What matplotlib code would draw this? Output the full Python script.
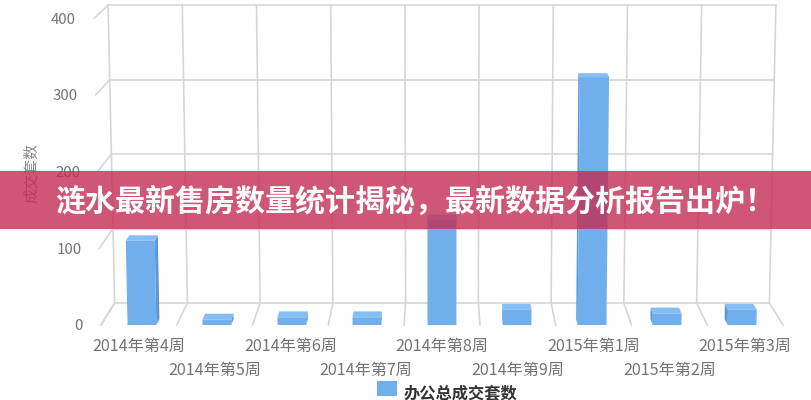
import numpy as np
import matplotlib
matplotlib.use("Agg")
import matplotlib.pyplot as plt

plt.rcParams['font.family'] = ['Noto Sans CJK SC', 'DejaVu Sans']

weeks = ['2014年第4周', '2014年第5周', '2014年第6周', '2014年第7周', '2014年第8周',
         '2014年第9周', '2015年第1周', '2015年第2周', '2015年第3周']
counts = [110, 7, 10, 10, 137, 20, 323, 15, 20]
y_ticks = [0, 100, 200, 300, 400]
series_name = '办公总成交套数'
y_name = '成交套数'
banner = '涟水最新售房数量统计揭秘，最新数据分析报告出炉！'

GRID = '#d6d6d6'
FRONT = '#70aeec'
TOP = '#85bef5'
SIDE = '#5c98d8'
TEXT = '#747474'


# fake 3d: t=0 is the front plane, t=1 the back wall
def proj(x, v, t):
    xp = 4.5 + (x - 4.5) * (1 + 0.02 * v / 400.0) * (1 - 0.04 * t)
    yp = v * (1 - 0.03 * t) + 28.7 * t
    return xp, yp


def line3d(ax, a, b):
    p = proj(*a)
    q = proj(*b)
    ax.plot([p[0], q[0]], [p[1], q[1]], color=GRID, lw=1.2, clip_on=False, zorder=1)


def face(ax, pts, color):
    xy = [proj(*p) for p in pts]
    ax.fill([c[0] for c in xy], [c[1] for c in xy], color=color, lw=0, clip_on=False, zorder=3)


def bar3d(ax, i, v, half=0.19, depth=0.27):
    c = 4.5 + (i + 0.5 - 4.5) * 0.99
    l, r = c - half, c + half
    # side wall that faces the middle of the chart
    sx = r if c < 4.5 else l
    face(ax, [(sx, 0, 0), (sx, v, 0), (sx, v, depth), (sx, 0, depth)], SIDE)
    face(ax, [(l, v, 0), (r, v, 0), (r, v, depth), (l, v, depth)], TOP)
    face(ax, [(l, 0, 0), (r, 0, 0), (r, v, 0), (l, v, 0)], FRONT)


fig = plt.figure(figsize=(8.12, 4.0), dpi=100)
ax = fig.add_axes([101 / 812, 75 / 400, 682 / 812, 307 / 400])
ax.set_xlim(0, 9)
ax.set_ylim(0, 400)
for s in ax.spines.values():
    s.set_visible(False)

# walls
for v in y_ticks:
    line3d(ax, (0, v, 0), (0, v, 1))
    line3d(ax, (0, v, 1), (9, v, 1))
for k in range(10):
    line3d(ax, (k, 0, 0), (k, 0, 1))
    line3d(ax, (k, 0, 1), (k, 400, 1))

for i in range(len(counts)):
    bar3d(ax, i, counts[i])

ax.set_xticks(np.arange(len(weeks)) + 0.5)
ax.set_xticklabels(weeks, fontsize=11.6, color=TEXT)
ax.set_yticks(y_ticks)
ax.set_yticklabels([str(v) for v in y_ticks], fontsize=10.8, color=TEXT)
ax.tick_params(length=0)
for n, tick in enumerate(ax.xaxis.get_major_ticks()):
    tick.set_pad(9.5 if n % 2 == 0 else 26.5)
for tick, gap in zip(ax.yaxis.get_major_ticks(), [13, 14, 15, 17, 18]):
    tick.set_pad(gap)

fig.text(31 / 812, 1 - 173 / 400, y_name, rotation=90, fontsize=10.8, color='#8a8a8a',
         ha='center', va='center')

# legend
fig.patches.append(plt.Rectangle((377 / 812, 1 - 396 / 400), 20 / 812, 15 / 400, color=FRONT,
                                 lw=0, transform=fig.transFigure))
fig.text(404 / 812, 1 - 393 / 400, series_name, fontsize=11.7, fontweight='bold', color='#333333',
         ha='left', va='center')

# title band across the chart
fig.patches.append(plt.Rectangle((0, 1 - 229 / 400), 1, 58 / 400, color=(194 / 255, 45 / 255, 82 / 255, 0.8),
                                 lw=0, transform=fig.transFigure, zorder=5))
fig.text(55 / 812, 1 - 202 / 400, banner, fontsize=21.6, fontweight='bold', color='white',
         ha='left', va='center', zorder=6)

fig.savefig('out.png', dpi=100)
